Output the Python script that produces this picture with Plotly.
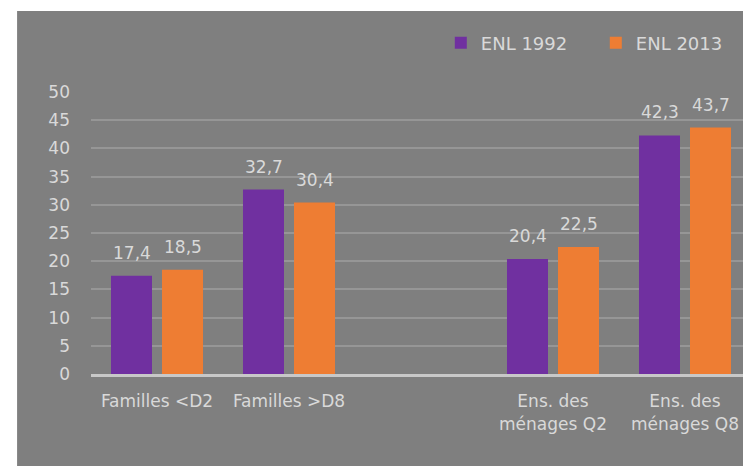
import plotly.graph_objects as go

# categories (the empty slot keeps the gap between the two groups)
categories = ["Familles <D2", "Familles >D8", " ", "Ens. des<br>ménages Q2", "Ens. des<br>ménages Q8"]
enl_1992 = [17.4, 32.7, None, 20.4, 42.3]
enl_2013 = [18.5, 30.4, None, 22.5, 43.7]
y_ticks = [0, 5, 10, 15, 20, 25, 30, 35, 40, 45, 50]

PURPLE = "#7030a0"
ORANGE = "#ee7d33"
GREY = "#7f7f7f"
TXT = "#d9d9d9"
FONT = "DejaVu Sans"


def fr(v):
    # french decimal comma for the labels
    return f"{v:.1f}".replace(".", ",")


fig = go.Figure()
fig.add_trace(go.Bar(x=categories, y=enl_1992, name="ENL 1992",
                     marker=dict(color=PURPLE, line=dict(width=0))))
fig.add_trace(go.Bar(x=categories, y=enl_2013, name="ENL 2013",
                     marker=dict(color=ORANGE, line=dict(width=0))))

# value labels a little above each bar (annotations so they can be lifted)
for vals, dx in ((enl_1992, -25.5), (enl_2013, 25.5)):
    for cat, v in zip(categories, vals):
        if v is None:
            continue
        fig.add_annotation(x=cat, y=v, text=fr(v), showarrow=False,
                           xshift=dx, yshift=11, yanchor="bottom",
                           font=dict(size=17, color=TXT, family=FONT))

# grey panel behind the chart (white strip on top and left)
fig.add_shape(type="rect", xref="paper", yref="paper",
              x0=-0.112, x1=1.01, y0=-0.33, y1=1.287,
              fillcolor=GREY, line=dict(width=0), layer="below")

# page body has an 8px margin, so the figure is a bit smaller than the window
fig.update_layout(
    width=743, height=458,
    margin=dict(l=83, r=0, t=84, b=92),
    paper_bgcolor="white",
    plot_bgcolor=GREY,
    barmode="group",
    bargap=0.227,
    bargroupgap=0.196,
    font=dict(family=FONT, color=TXT, size=17),
    showlegend=True,
    legend=dict(orientation="h", x=0.53, xanchor="left", y=1.174, yanchor="middle",
                font=dict(size=18, color=TXT, family=FONT),
                bgcolor="rgba(0,0,0,0)", entrywidth=110, traceorder="normal"),
)
fig.update_xaxes(showgrid=False, showline=True, linecolor="#c8c8c8", linewidth=3,
                 ticks="", tickfont=dict(size=17, color=TXT), ticklabelstandoff=10,
                 fixedrange=True)
fig.update_yaxes(range=[0, 50], tickvals=y_ticks, showgrid=True, gridcolor="#969696",
                 gridwidth=1.5, zeroline=False, showline=False, ticks="",
                 tickfont=dict(size=17, color=TXT), ticklabelstandoff=20)

fig.write_html("out.html")
